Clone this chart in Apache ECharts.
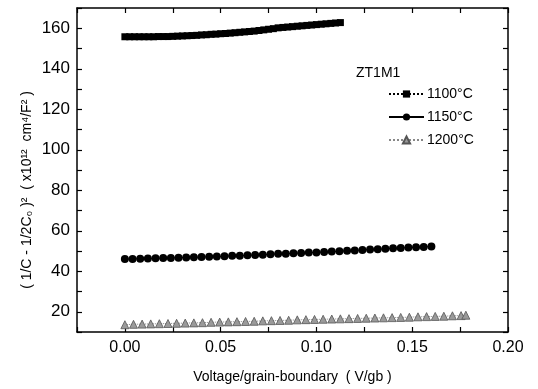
<!DOCTYPE html>
<html>
<head>
<meta charset="utf-8">
<script src="https://cdn.jsdelivr.net/npm/echarts@6/dist/echarts.min.js"></script>
<style>html,body{margin:0;padding:0;background:#fff}#c{width:538px;height:389px}</style>
</head>
<body>
<div id="c"></div>
<script>
// ---- data ----
var seriesNames = ['1100\u00B0C', '1150\u00B0C', '1200\u00B0C'];
var x1100 = [0,0.0025,0.005,0.0075,0.01,0.0125,0.015,0.0175,0.02,0.0225,0.025,0.0275,0.03,0.0325,0.035,0.0375,0.04,0.0425,0.045,0.0475,0.05,0.0525,0.055,0.0575,0.06,0.0625,0.065,0.0675,0.07,0.0725,0.075,0.0775,0.08,0.0825,0.085,0.0875,0.09,0.0925,0.095,0.0975,0.1,0.1025,0.105,0.1075,0.11,0.1125];
var y1100 = [155.8,155.8,155.8,155.8,155.8,155.8,155.8,155.9,155.9,155.9,156.0,156.1,156.2,156.3,156.4,156.5,156.7,156.8,157.0,157.1,157.3,157.4,157.6,157.8,158.0,158.2,158.4,158.6,158.9,159.2,159.5,159.8,160.2,160.4,160.6,160.8,161.0,161.2,161.4,161.6,161.8,162.0,162.2,162.4,162.6,162.8];
var x1150 = [0,0.004,0.008,0.012,0.016,0.02,0.024,0.028,0.032,0.036,0.04,0.044,0.048,0.052,0.056,0.06,0.064,0.068,0.072,0.076,0.08,0.084,0.088,0.092,0.096,0.1,0.104,0.108,0.112,0.116,0.12,0.124,0.128,0.132,0.136,0.14,0.144,0.148,0.152,0.156,0.16];
var y1150 = [46.0,46.1,46.2,46.3,46.4,46.5,46.6,46.7,46.8,46.9,47.0,47.1,47.3,47.4,47.6,47.7,47.9,48.0,48.2,48.4,48.6,48.7,48.9,49.0,49.2,49.3,49.5,49.7,49.9,50.1,50.3,50.5,50.7,50.9,51.1,51.3,51.5,51.7,51.9,52.0,52.2];
var x1200 = [0,0.0045,0.009,0.0135,0.018,0.0225,0.027,0.0315,0.036,0.0405,0.045,0.0495,0.054,0.0585,0.063,0.0675,0.072,0.0765,0.081,0.0855,0.09,0.0945,0.099,0.1035,0.108,0.1125,0.117,0.1215,0.126,0.1305,0.135,0.1395,0.144,0.1485,0.153,0.1575,0.162,0.1665,0.171,0.1755,0.178];
var y1200 = [13.6,13.8,13.9,14.0,14.1,14.2,14.3,14.4,14.5,14.6,14.8,14.9,15.0,15.1,15.2,15.3,15.5,15.6,15.7,15.8,16.0,16.1,16.2,16.3,16.4,16.5,16.6,16.7,16.8,16.9,17.0,17.1,17.2,17.3,17.5,17.6,17.7,17.8,18.0,18.1,18.3];
var xTicks = [0, 0.05, 0.10, 0.15, 0.20];
var yTicks = [20, 40, 60, 80, 100, 120, 140, 160];

function pairs(xs, ys){ return xs.map(function(x,i){ return [x, ys[i]]; }); }
function isLabelX(v){ return xTicks.some(function(t){ return Math.abs(t - v) < 1e-9; }); }
function isLabelY(v){ return yTicks.indexOf(Math.round(v)) >= 0 && Math.abs(Math.round(v)-v) < 1e-9; }

var FONT = 'Liberation Sans, Arial, sans-serif';
var chart = echarts.init(document.getElementById('c'));
var axisLine = {show:true, onZero:false, lineStyle:{color:'#000', width:1.5}};
var tick = {show:true, inside:true, length:5, lineStyle:{color:'#000', width:1.2}};
chart.setOption({
  animation:false,
  backgroundColor:'#fff',
  grid:{left:77, right:30, top:8, bottom:56, show:false},
  title:{text:'ZT1M1', left:351, top:61, textStyle:{fontFamily:FONT, fontSize:14, fontWeight:'normal', color:'#000'}},
  legend:{
    orient:'vertical', left:383, top:82, itemGap:9, itemWidth:35, itemHeight:9,
    data:seriesNames,
    textStyle:{fontFamily:FONT, fontSize:14, color:'#000', padding:[0,0,0,-2]}
  },
  graphic:[{
    type:'text', x:27, y:190, rotation:Math.PI/2,
    style:{text:'( 1/C - 1/2C\u2080 )\u00B2  ( x10\u00B9\u00B2  cm\u2074/F\u00B2 )', fontFamily:FONT, fontSize:14, fill:'#000', align:'center', verticalAlign:'middle'}
  }],
  xAxis:[{
    type:'value', min:-0.025, max:0.2, interval:0.025,
    name:'Voltage/grain-boundary  ( V/gb )', nameLocation:'middle', nameGap:38,
    nameTextStyle:{fontFamily:FONT, fontSize:14, color:'#000'},
    axisLine:axisLine, axisTick:tick, splitLine:{show:false},
    axisLabel:{margin:8, fontFamily:FONT, fontSize:16, color:'#000',
      formatter:function(v){ return isLabelX(v) ? v.toFixed(2) : ''; }}
  },{
    type:'value', position:'top', min:-0.025, max:0.2, interval:0.025,
    axisLine:axisLine, axisTick:tick, axisLabel:{show:false}, splitLine:{show:false}
  }],
  yAxis:[{
    type:'value', min:10, max:170, interval:10,
    axisLine:axisLine, axisTick:tick, splitLine:{show:false},
    axisLabel:{margin:7, fontFamily:FONT, fontSize:17, color:'#000',
      formatter:function(v){ return isLabelY(v) ? String(v) : ''; }}
  },{
    type:'value', position:'right', min:10, max:170, interval:10,
    axisLine:axisLine, axisTick:tick, axisLabel:{show:false}, splitLine:{show:false}
  }],
  series:[{
    name:seriesNames[0], type:'line', data:pairs(x1100, y1100),
    symbol:'rect', symbolSize:7,
    itemStyle:{color:'#000'}, lineStyle:{color:'#000', width:1, type:'dotted'}
  },{
    name:seriesNames[1], type:'line', data:pairs(x1150, y1150),
    symbol:'circle', symbolSize:8,
    itemStyle:{color:'#000'}, lineStyle:{color:'#000', width:1}
  },{
    name:seriesNames[2], type:'line', data:pairs(x1200, y1200),
    symbol:'triangle', symbolSize:8,
    itemStyle:{color:'#9a9a9a', borderColor:'#555', borderWidth:0.8}, lineStyle:{color:'#888', width:1, type:'dotted'}
  }]
});
</script>
</body>
</html>
